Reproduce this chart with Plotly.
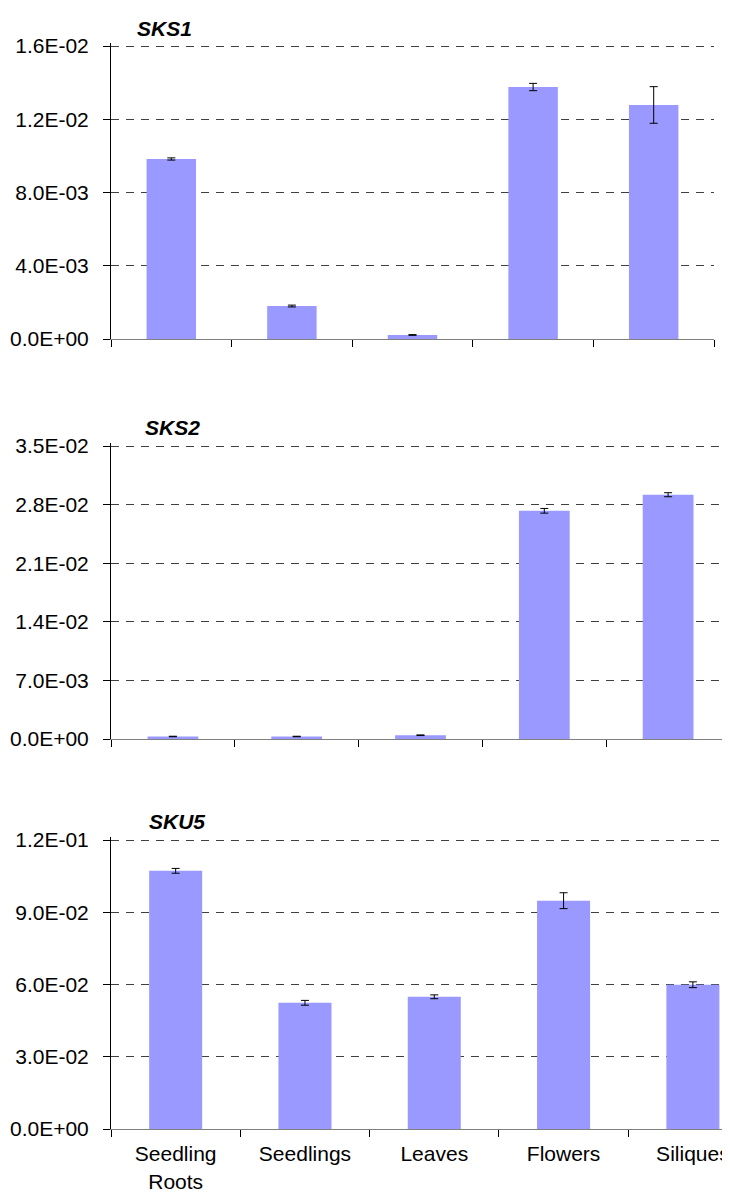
import plotly.graph_objects as go

tissues = ["Seedling<br>Roots", "Seedlings", "Leaves", "Flowers", "Siliques"]

sks1 = [0.00983, 0.00180, 0.00022, 0.01376, 0.01278]
sks1_err = [0.00006, 0.00005, 0.00002, 0.00020, 0.00100]
sks2 = [0.00030, 0.00030, 0.00045, 0.02726, 0.02918]
sks2_err = [0.00003, 0.00003, 0.00004, 0.00028, 0.00024]
sku5 = [0.1072, 0.0524, 0.0549, 0.0948, 0.0599]
sku5_err = [0.0010, 0.0010, 0.0008, 0.0033, 0.0012]

sks1_ticks = [0, 0.004, 0.008, 0.012, 0.016]
sks2_ticks = [0, 0.007, 0.014, 0.021, 0.028, 0.035]
sku5_ticks = [0, 0.03, 0.06, 0.09, 0.12]

genes = ["SKS1", "SKS2", "SKU5"]

# page body has an 8px margin, so the figure is drawn 8px in from the corner
OFF = 8
W, H = 730 - OFF, 1196 - OFF
FONT = "Liberation Sans, Arial, sans-serif"
BAR = "#9999FF"
PAD = 3  # keep the top gridline away from the plot edge so it is drawn

def fx(p):
    return (p - OFF) / W

def fy(p):
    return 1 - (p - OFF) / H

fig = go.Figure()

panels = [
    (sks1, sks1_err, sks1_ticks, (111, 714), (46, 339), [-0.5, 4.5], (164, 28)),
    (sks2, sks2_err, sks2_ticks, (111, 730), (446, 739), [-0.5, 4.5], (172, 427)),
    (sku5, sku5_err, sku5_ticks, (111, 730), (840, 1129), [-0.5, 4.287], (177, 821)),
]

for i, (vals, err, ticks, xd, yd, xr, tpos) in enumerate(panels):
    n = "" if i == 0 else str(i + 1)
    fig.add_trace(go.Bar(
        x=tissues, y=vals, xaxis="x" + n, yaxis="y" + n,
        marker=dict(color=BAR, line=dict(width=0)),
        error_y=dict(type="data", array=err, color="black", thickness=1, width=4),
        showlegend=False,
    ))
    fig.layout["xaxis" + n] = dict(
        domain=[fx(xd[0]), fx(xd[1])], anchor="y" + n, type="category",
        range=xr, tickson="boundaries", ticks="outside", ticklen=7,
        tickcolor="#000", showline=True, linecolor="#808080", linewidth=1,
        showgrid=False, showticklabels=(i == 2), ticklabelstandoff=6,
        automargin=False,
        tickfont=dict(family=FONT, size=21, color="black"),
    )
    span = yd[1] - yd[0]
    top = ticks[-1] * (1 + PAD / span)
    fig.layout["yaxis" + n] = dict(
        domain=[fy(yd[1]), fy(yd[0] - PAD)], anchor="x" + n,
        range=[0, top], tickvals=ticks,
        ticktext=[f"{t:.1E}" for t in ticks],
        ticks="outside", ticklen=7, tickcolor="#000",
        showline=True, linecolor="#000", linewidth=1,
        showgrid=True, gridcolor="#404040", gridwidth=1, griddash="8px,7px",
        zeroline=False, ticklabelstandoff=10, automargin=False,
        tickfont=dict(family=FONT, size=21, color="black"),
    )
    fig.add_annotation(
        text="<b><i>" + genes[i] + "</i></b>", xref="paper", yref="paper",
        x=fx(tpos[0]), y=fy(tpos[1]), showarrow=False,
        xanchor="center", yanchor="middle",
        font=dict(family=FONT, size=21, color="black"),
    )

fig.update_layout(
    width=W, height=H, margin=dict(l=0, r=0, t=0, b=0, autoexpand=False),
    bargap=0.59, plot_bgcolor="white", paper_bgcolor="white",
)

fig.write_html("out.html")
